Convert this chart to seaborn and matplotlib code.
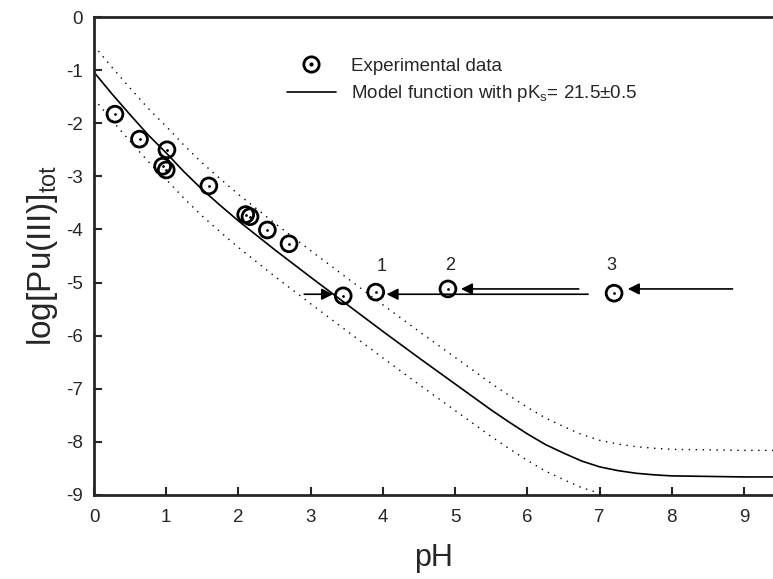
import matplotlib
matplotlib.use("Agg")
import matplotlib.pyplot as plt
from matplotlib.lines import Line2D
from matplotlib.legend_handler import HandlerTuple
import seaborn as sns
import pandas as pd

# --- data ---
ph_exp = [0.29, 0.63, 1.01, 0.95, 1.00, 1.59, 2.10, 2.16, 2.40, 2.70, 3.45, 3.90, 4.90, 7.20]
log_exp = [-1.83, -2.30, -2.50, -2.81, -2.88, -3.18, -3.72, -3.76, -4.01, -4.27, -5.25, -5.18, -5.12, -5.20]

ph_model = [0.0, 0.25, 0.5, 0.75, 1.0, 1.25, 1.5, 1.75, 2.0, 2.5, 3.0, 3.5, 4.0, 4.5, 5.0,
            5.5, 5.75, 6.0, 6.25, 6.5, 6.75, 7.0, 7.25, 7.5, 7.75, 8.0, 8.5, 9.0, 9.4]
log_model = [-1.04, -1.45, -1.84, -2.22, -2.56, -2.92, -3.25, -3.55, -3.84, -4.38, -4.90, -5.41,
             -5.92, -6.42, -6.91, -7.40, -7.63, -7.85, -8.05, -8.21, -8.36, -8.47, -8.54, -8.59,
             -8.62, -8.64, -8.65, -8.66, -8.66]
pks_err = 0.5  # +-0.5 band shown dotted

# arrows: (x_from, x_to, y)
arrows = [(2.91, 3.31, -5.22), (6.84, 4.05, -5.22), (6.71, 5.08, -5.12), (8.84, 7.39, -5.12)]
point_labels = ["1", "2", "3"]
label_x = [3.98, 4.93, 7.16]
label_y = [-4.70, -4.67, -4.67]

sns.set_style("ticks")
plt.rcParams["font.family"] = ["Liberation Sans", "DejaVu Sans"]
plt.rcParams["mathtext.fontset"] = "custom"
plt.rcParams["mathtext.rm"] = "Liberation Sans"
plt.rcParams["mathtext.it"] = "Liberation Sans:italic"
plt.rcParams["axes.unicode_minus"] = False

model = pd.DataFrame({"pH": ph_model, "mid": log_model})
model["hi"] = model["mid"] + pks_err
model["lo"] = model["mid"] - pks_err
exp = pd.DataFrame({"pH": ph_exp, "log": log_exp})

fig = plt.figure(figsize=(7.73, 5.79), dpi=100)
ax = fig.add_axes([94 / 773, 84 / 579, 679 / 773, 478 / 579])

sns.lineplot(data=model, x="pH", y="mid", ax=ax, color="black", lw=1.2)
for col in ["hi", "lo"]:
    sns.lineplot(data=model, x="pH", y=col, ax=ax, color="black", lw=1.0,
                 linestyle=(0, (1, 4)))

sns.scatterplot(data=exp, x="pH", y="log", ax=ax, marker="o", s=130,
                facecolors="none", edgecolor="black", linewidth=2, zorder=5)
sns.scatterplot(data=exp, x="pH", y="log", ax=ax, marker="o", s=4,
                color="black", linewidth=0, zorder=6)

for x0, x1, y in arrows:
    ax.annotate("", xy=(x1, y), xytext=(x0, y),
                arrowprops=dict(arrowstyle="-|>", color="black", lw=1.2,
                                mutation_scale=17, shrinkA=0, shrinkB=0))
for t, x, y in zip(point_labels, label_x, label_y):
    ax.text(x, y, t, fontsize=13, ha="center", va="center")

ax.set_xlim(0, 9.4)
ax.set_ylim(-9, 0)
ax.set_xticks(range(0, 10))
ax.set_yticks(range(-9, 1))
ax.tick_params(direction="in", length=6, width=1.5, labelsize=13.5)
ax.tick_params(axis="x", pad=10)
ax.tick_params(axis="y", pad=8)
for s in ["left", "bottom", "top"]:
    ax.spines[s].set_linewidth(2)
ax.spines["right"].set_visible(False)

ax.set_xlabel("pH", fontsize=22, labelpad=12)
ax.set_ylabel(r"log[Pu(III)]$_{\mathrm{tot}}$", fontsize=24, labelpad=4)

h_exp = (Line2D([], [], marker="o", ms=11, mfc="none", mec="black", mew=2, ls="none"),
         Line2D([], [], marker="o", ms=2, color="black", ls="none"))
h_mod = Line2D([], [], color="black", lw=1.2)
ax.legend([h_exp, h_mod],
          ["Experimental data", r"Model function with pK$_\mathrm{s}$= 21.5±0.5"],
          handler_map={tuple: HandlerTuple(ndivide=1)},
          loc="upper left", bbox_to_anchor=(0.284, 0.915), frameon=False,
          fontsize=13.5, handlelength=2.6, handletextpad=0.8, borderpad=0,
          borderaxespad=0, labelspacing=0.45)

fig.savefig("out.png", dpi=100)
